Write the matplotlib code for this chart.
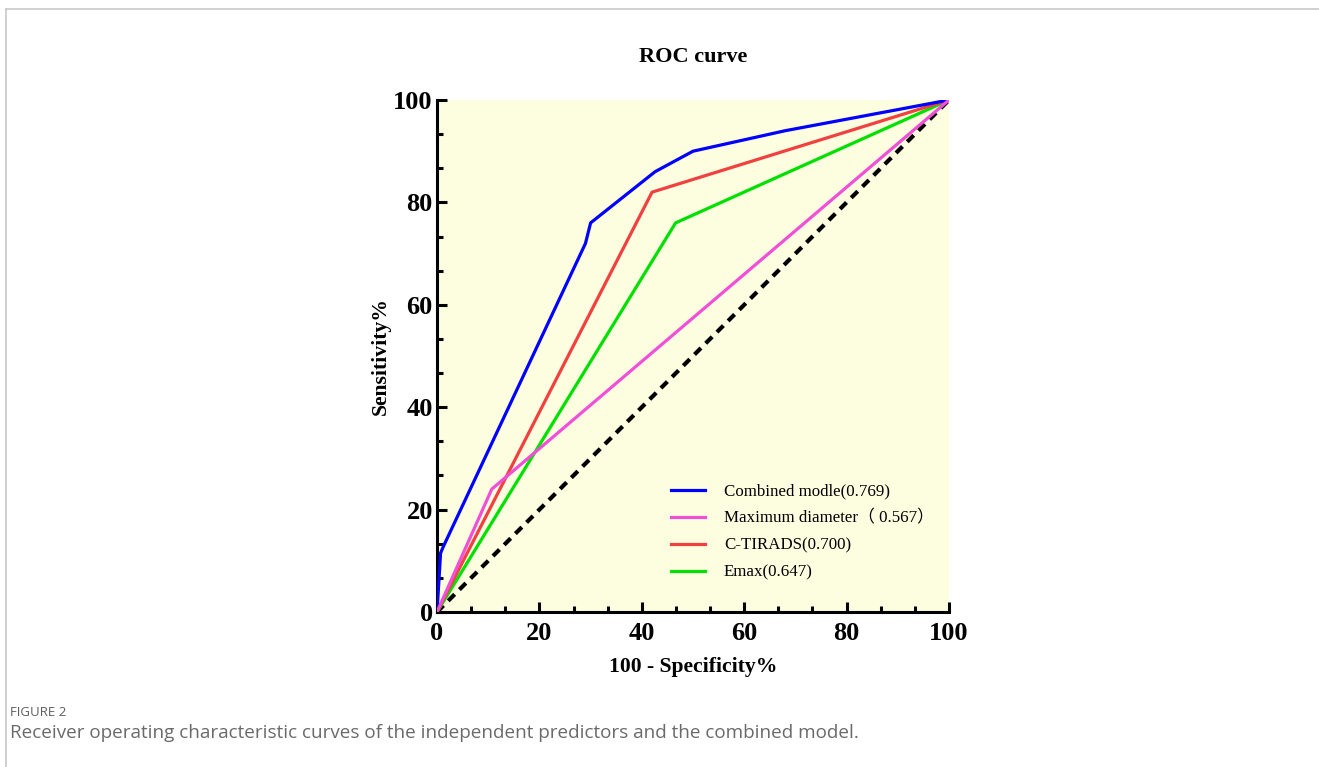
import matplotlib
matplotlib.use("Agg")
import matplotlib.pyplot as plt
from matplotlib.font_manager import FontProperties
from matplotlib.ticker import MultipleLocator
from matplotlib.lines import Line2D

# ---- data ----
combined_x = [0, 0.7, 1.2, 29.0, 30.0, 42.6, 50.0, 68.0, 100]
combined_y = [0, 11.5, 12.7, 72.0, 76.0, 86.0, 90.0, 94.0, 100]
maxdiam_x = [0, 10.7, 100]
maxdiam_y = [0, 24.0, 100]
ctirads_x = [0, 42.0, 100]
ctirads_y = [0, 82.0, 100]
emax_x = [0, 46.6, 100]
emax_y = [0, 76.0, 100]
ref_x = [0, 100]
ref_y = [0, 100]

labels = ["Combined modle(0.769)", "Maximum diameter（ 0.567）",
          "C-TIRADS(0.700)", "Emax(0.647)"]
colors = ["#0000ff", "#f050d8", "#f04040", "#00e000"]

xticks = [0, 20, 40, 60, 80, 100]
yticks = [0, 20, 40, 60, 80, 100]

serif = "Liberation Serif"

fig = plt.figure(figsize=(13.19, 7.67), dpi=100)

# border lines (top and left)
fig.add_artist(Line2D([6/1319, 1.0], [1-9/767, 1-9/767], transform=fig.transFigure,
                      color="#c8c8c8", lw=1.2))
fig.add_artist(Line2D([6/1319, 6/1319], [0, 1-9/767], transform=fig.transFigure,
                      color="#c8c8c8", lw=1.2))

ax = fig.add_axes([437/1319, 1-612/767, 512/1319, 512/767])
ax.set_facecolor("#fdfde0")

ax.plot(ref_x, ref_y, color="black", lw=3.0, ls=(0, (2.2, 1.6)), zorder=2)
series = [(combined_x, combined_y), (maxdiam_x, maxdiam_y),
          (ctirads_x, ctirads_y), (emax_x, emax_y)]
handles = []
for i, (xs, ys) in enumerate(series):
    h, = ax.plot(xs, ys, color=colors[i], lw=2.3, label=labels[i],
                 zorder=3 + (4 - i) if i != 1 else 7, solid_joinstyle="round")
    handles.append(h)

ax.set_xlim(0, 100)
ax.set_ylim(0, 100)
ax.set_xticks(xticks)
ax.set_yticks(yticks)
ax.xaxis.set_minor_locator(MultipleLocator(20/3))
ax.yaxis.set_minor_locator(MultipleLocator(20/3))
for s in ["top", "right"]:
    ax.spines[s].set_visible(False)
for s in ["left", "bottom"]:
    ax.spines[s].set_linewidth(2.2)
ax.tick_params(which="major", direction="in", length=7, width=2.2)
ax.tick_params(which="minor", direction="in", length=4.5, width=2.2)
ax.tick_params(axis="x", which="major", pad=7)
ax.tick_params(axis="y", which="major", pad=3)
for lab in ax.get_xticklabels() + ax.get_yticklabels():
    lab.set_fontfamily(serif)
    lab.set_fontweight("bold")
    lab.set_fontsize(19)

ax.set_xlabel("100 - Specificity%", fontfamily=serif, fontweight="bold",
              fontsize=15.6, labelpad=9)
ax.set_ylabel("Sensitivity%", fontfamily=serif, fontweight="bold",
              fontsize=15.6, labelpad=2)
ax.set_title("ROC curve", fontfamily=serif, fontweight="bold", fontsize=16, pad=27)

leg = ax.legend(handles=handles, labels=labels, frameon=False,
                loc="upper left", bbox_to_anchor=(0.428, 0.28),
                prop=FontProperties(family=[serif, "Noto Sans CJK SC"], size=12.2),
                handlelength=2.0, handletextpad=1.1, labelspacing=0.64)
for l in leg.get_lines():
    l.set_linewidth(2.3)

fig.text(10/1319, 1-712/767, "FIGURE 2", fontfamily="Open Sans", fontsize=9.5,
         color="#5e5e5e", va="center", ha="left")
fig.text(10/1319, 1-733/767,
         "Receiver operating characteristic curves of the independent predictors and the combined model.",
         fontfamily="Open Sans", fontsize=13.6, color="#6a6a6a", va="center", ha="left")

fig.savefig("out.png", dpi=100)
